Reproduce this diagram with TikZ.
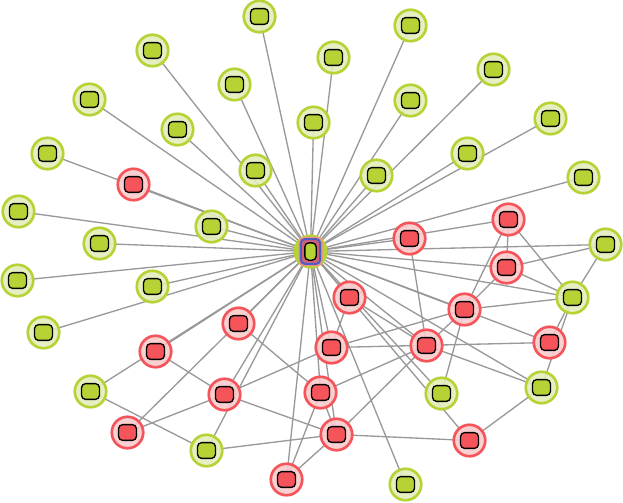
\documentclass[tikz,border=0pt]{standalone}
\usetikzlibrary{backgrounds}
\definecolor{gstroke}{HTML}{B5D334}
\definecolor{gfill}{HTML}{E4EEBC}
\definecolor{rstroke}{HTML}{F4545A}
\definecolor{rfill}{HTML}{FBCBCD}
\definecolor{edgec}{HTML}{999999}
\definecolor{cblue}{HTML}{4A5FC4}
\definecolor{cmid}{HTML}{D0607C}
\tikzset{
  ring/.style={circle,inner sep=0pt,outer sep=0pt,minimum size=23.6pt,line width=2pt},
  gnode/.style={ring,draw=gstroke,fill=gfill,fill opacity=.9},
  rnode/.style={ring,draw=rstroke,fill=rfill,fill opacity=.9},
  chip/.style={rectangle,rounded corners=3pt,inner sep=0pt,outer sep=0pt,minimum width=13.4pt,minimum height=11.8pt,draw=black,line width=1pt},
  gchip/.style={chip,fill=gstroke},
  rchip/.style={chip,fill=rstroke},
  link/.style={draw=edgec,line width=1pt},
}
\begin{document}
\begin{tikzpicture}[x=0.75pt,y=-0.75pt]
\useasboundingbox (0,0) rectangle (623,502);
\begin{scope}[shift={(0.5,0.5)}]
\foreach \n/\x/\y in {
 g1/259/16,g2/410/25,g3/152/50,g4/333/57,g5/493/69,g6/89/99,g7/234/84,g8/410/100,
 g9/313/122,g10/177/129,g11/550/118,g12/47/153,g13/467/153,g14/255/170,g15/376/175,
 g16/583/177,g17/18/211,g18/211/226,g19/99/243,g20/605/244,g21/17/280,g22/152/286,
 g23/572/297,g24/43/332,g25/90/391,g26/441/393,g27/541/387,g28/206/450,g29/405/484}
 {\node[gnode] (\n) at (\x,\y) {}; \node[gchip] (\n-chip) at (\x,\y) {};}
\foreach \n/\x/\y in {
 r1/133/184,r2/409/238,r3/508/219,r4/506/267,r5/349/297,r6/464/309,r7/238/323,
 r8/549/342,r9/155/351,r10/331/347,r11/426/345,r12/224/394,r13/320/392,r14/127/432,
 r15/336/434,r16/469/440,r17/286/479}
 {\node[rnode] (\n) at (\x,\y) {}; \node[rchip] (\n-chip) at (\x,\y) {};}
% centre
\node[ring,draw=gstroke,fill=gstroke] (c) at (310,251) {};
\node[rectangle,rounded corners=4pt,inner sep=0pt,minimum width=18pt,minimum height=22pt,fill=rstroke!70!white] (c-red) at (310,251) {};
\node[rectangle,rounded corners=3pt,inner sep=0pt,minimum width=14.5pt,minimum height=18.5pt,draw=cblue,line width=1.5pt,fill=cmid] (c-blue) at (310,251) {};
\node[rectangle,rounded corners=3pt,inner sep=0pt,minimum width=8.5pt,minimum height=13pt,draw=black,line width=1pt,fill=gstroke] (c-chip) at (310,251) {};
\begin{scope}[on background layer]
\fill[white] (-0.5,-0.5) rectangle (622.5,501.5);
\foreach \n in {g1,g2,g3,g4,g5,g6,g7,g8,g9,g10,g11,g12,g13,g14,g15,g16,g17,g18,g19,g20,g21,g22,g23,g24,g25,g26,g27,g28,g29,r1,r2,r3,r4,r5,r6,r7,r8,r9,r10,r11,r12,r13,r14,r15,r16,r17}
 {\draw[link] (c.center) -- (\n.center);}
\foreach \a/\b in {g20/r4,g20/g23,r3/r4,r3/r6,r3/g23,r4/r6,r4/g23,r6/g23,r6/r11,r6/r10,r6/g26,
 r2/r11,r10/r8,r11/g27,r11/r15,r11/r13,r5/r10,r5/r11,g23/r8,g23/g27,g27/r16,r15/r16,
 r7/r13,r9/r12,r12/r14,r12/r15,r12/r10,g25/g28,g28/r15,r13/r15,r13/r17,r15/r17}
 {\draw[link] (\a.center) -- (\b.center);}
\end{scope}
\end{scope}
\end{tikzpicture}
\end{document}
